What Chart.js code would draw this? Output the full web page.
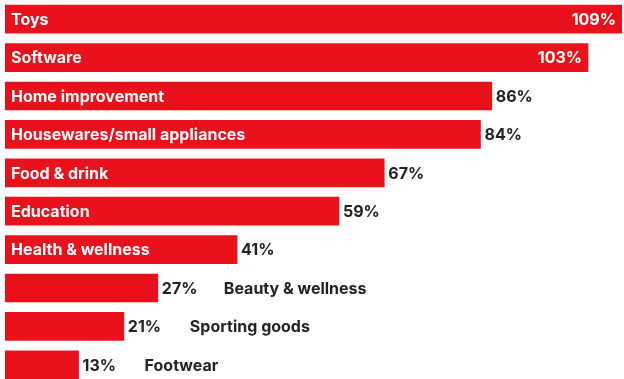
<!DOCTYPE html>
<html>
<head>
<meta charset="utf-8">
<script src="https://cdn.jsdelivr.net/npm/chart.js@4"></script>
<style>
  html, body { margin: 0; padding: 0; background: #fff; overflow: hidden; }
  #wrap { width: 624px; height: 384px; position: relative; }
</style>
</head>
<body>
<div id="wrap"><canvas id="chart"></canvas></div>
<script>
const categories = [
  "Toys", "Software", "Home improvement", "Housewares/small appliances",
  "Food & drink", "Education", "Health & wellness", "Beauty & wellness",
  "Sporting goods", "Footwear"
];
const growth = [109, 103, 86, 84, 67, 59, 41, 27, 21, 13];

const RED = "#e8111c";
const DARK = "#222222";
const FONT = "bold 16px Inter, 'Noto Sans', sans-serif";

// labels inside or next to each bar
const barLabels = {
  id: "barLabels",
  afterDatasetsDraw(chart) {
    const ctx = chart.ctx;
    const meta = chart.getDatasetMeta(0);
    ctx.save();
    ctx.font = FONT;
    ctx.textBaseline = "middle";
    meta.data.forEach((bar, i) => {
      const v = growth[i];
      const txt = v + "%";
      const y = bar.y + 1;
      const left = bar.base;
      const right = bar.x;
      if (v >= 100) {
        ctx.fillStyle = "#fff";
        ctx.textAlign = "left";
        ctx.fillText(categories[i], left + 6, y);
        ctx.textAlign = "right";
        ctx.fillText(txt, right - 6, y);
      } else if (v >= 30) {
        ctx.fillStyle = "#fff";
        ctx.textAlign = "left";
        ctx.fillText(categories[i], left + 6, y);
        ctx.fillStyle = DARK;
        ctx.fillText(txt, right + 4, y);
      } else {
        ctx.fillStyle = DARK;
        ctx.textAlign = "left";
        ctx.fillText(txt, right + 4, y);
        ctx.fillText(categories[i], right + 66, y);
      }
    });
    ctx.restore();
  }
};

new Chart(document.getElementById("chart"), {
  type: "bar",
  data: {
    labels: categories,
    datasets: [{
      data: growth,
      backgroundColor: RED,
      borderWidth: 0,
      barThickness: 28
    }]
  },
  options: {
    indexAxis: "y",
    responsive: true,
    maintainAspectRatio: false,
    animation: false,
    layout: { padding: { left: 5, right: 2, top: 0, bottom: 0 } },
    plugins: {
      legend: { display: false },
      tooltip: { enabled: false }
    },
    scales: {
      x: { display: false, min: 0, max: 109 },
      y: { display: false }
    }
  },
  plugins: [barLabels]
});
</script>
</body>
</html>
